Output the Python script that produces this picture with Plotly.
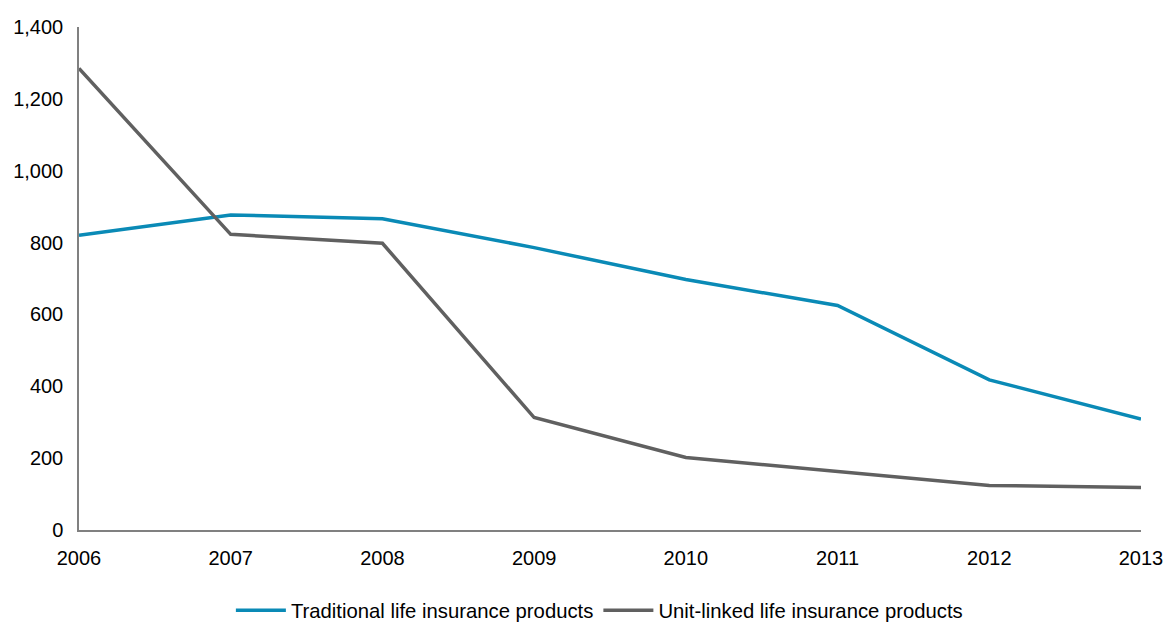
import plotly.graph_objects as go

years = [2006, 2007, 2008, 2009, 2010, 2011, 2012, 2013]
traditional = [820, 877, 866, 786, 697, 625, 418, 309]
unit_linked = [1285, 823, 798, 313, 202, 163, 124, 118]
y_ticks = [0, 200, 400, 600, 800, 1000, 1200, 1400]

FONT = "Liberation Sans, Arial, sans-serif"

fig = go.Figure()
fig.add_trace(go.Scatter(x=years, y=traditional, mode="lines",
                         name="Traditional life insurance products",
                         line=dict(color="#0A8AB6", width=3.5)))
fig.add_trace(go.Scatter(x=years, y=unit_linked, mode="lines",
                         name="Unit-linked life insurance products",
                         line=dict(color="#606060", width=3.5)))

fig.update_layout(
    width=1168, height=622,
    margin=dict(l=79, r=27, t=27, b=92, autoexpand=False),
    paper_bgcolor="white", plot_bgcolor="white",
    font=dict(family=FONT, size=20, color="#000000"),
    showlegend=True,
    legend=dict(orientation="h", x=0.49, xanchor="center", y=-0.16, yanchor="middle",
                font=dict(size=20.3), itemwidth=50, bgcolor="rgba(0,0,0,0)"),
)
fig.update_xaxes(range=[2006, 2013], tickvals=years, ticktext=[str(y) for y in years],
                 showline=True, linecolor="#808080", linewidth=1.5, automargin=False,
                 showgrid=False, zeroline=False, ticks="", ticklabelstandoff=9)
fig.update_yaxes(range=[0, 1400], tickvals=y_ticks, tickformat=",", automargin=False,
                 showline=True, linecolor="#808080", linewidth=1.5,
                 showgrid=False, zeroline=False, ticks="", ticklabelstandoff=10)

fig.write_html("out.html")
